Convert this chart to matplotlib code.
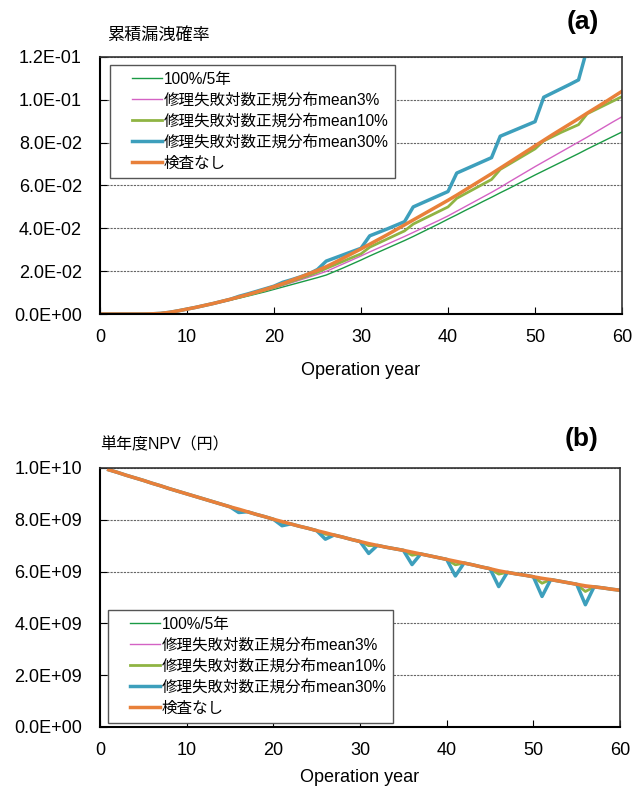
import matplotlib
matplotlib.use("Agg")
import matplotlib.pyplot as plt
from matplotlib.lines import Line2D
from matplotlib.legend_handler import HandlerLine2D
from matplotlib.ticker import FuncFormatter, MultipleLocator

plt.rcParams['font.family'] = ['Liberation Sans', 'Noto Sans CJK JP', 'DejaVu Sans']

# series labels and colours (legend order)
labels = ["100%/5年", "修理失敗対数正規分布mean3%", "修理失敗対数正規分布mean10%",
          "修理失敗対数正規分布mean30%", "検査なし"]
colors = ["#1a9a45", "#d462c4", "#8fb443", "#3d9fbc", "#e8803a"]
widths = [1.0, 1.0, 2.0, 2.5, 2.5]

# (a) cumulative leak probability, years 0..60
years_a = list(range(0, 61))
leak_none = [0, 0, 0, 0, 0, 0, 0.0001, 0.0003, 0.0008, 0.0015,
             0.0023, 0.0031, 0.0040, 0.0049, 0.0059, 0.0069, 0.0080, 0.0091, 0.0103, 0.0115,
             0.0128, 0.0142, 0.0157, 0.0172, 0.0188, 0.0204, 0.0221, 0.0241, 0.0262, 0.0283,
             0.0304, 0.0326, 0.0348, 0.0370, 0.0393, 0.0416, 0.0439, 0.0462, 0.0485, 0.0508,
             0.0531, 0.0555, 0.0580, 0.0605, 0.0630, 0.0655, 0.0681, 0.0707, 0.0733, 0.0759,
             0.0785, 0.0811, 0.0837, 0.0862, 0.0887, 0.0912, 0.0938, 0.0963, 0.0988, 0.1014,
             0.1040]
leak_m30 = [0, 0, 0, 0, 0, 0, 0.0001, 0.0003, 0.0008, 0.0015,
            0.0023, 0.0031, 0.0040, 0.0049, 0.0059, 0.0069, 0.0083, 0.0094, 0.0106, 0.0118,
            0.0130, 0.0148, 0.0160, 0.0173, 0.0187, 0.0208, 0.0247, 0.0262, 0.0277, 0.0292,
            0.0307, 0.0365, 0.0381, 0.0397, 0.0414, 0.0431, 0.0500, 0.0518, 0.0536, 0.0554,
            0.0572, 0.0658, 0.0676, 0.0694, 0.0712, 0.0730, 0.0830, 0.0847, 0.0864, 0.0881,
            0.0898, 0.1012, 0.1032, 0.1052, 0.1072, 0.1093, 0.1240, 0.1262, 0.1284, 0.1306,
            0.1328]
leak_m10 = [0, 0, 0, 0, 0, 0, 0.0001, 0.0003, 0.0008, 0.0015,
            0.0023, 0.0031, 0.0040, 0.0049, 0.0059, 0.0069, 0.0079, 0.0089, 0.0100, 0.0112,
            0.0124, 0.0138, 0.0152, 0.0166, 0.0180, 0.0195, 0.0213, 0.0230, 0.0247, 0.0264,
            0.0281, 0.0312, 0.0331, 0.0350, 0.0369, 0.0388, 0.0420, 0.0440, 0.0460, 0.0480,
            0.0500, 0.0540, 0.0562, 0.0584, 0.0606, 0.0628, 0.0675, 0.0699, 0.0723, 0.0747,
            0.0771, 0.0808, 0.0828, 0.0848, 0.0866, 0.0884, 0.0935, 0.0955, 0.0975, 0.0995,
            0.1015]
leak_m3 = [0, 0, 0, 0, 0, 0, 0.0001, 0.0003, 0.0008, 0.0015,
           0.0023, 0.0031, 0.0040, 0.0048, 0.0057, 0.0067, 0.0077, 0.0087, 0.0098, 0.0109,
           0.0120, 0.0133, 0.0146, 0.0159, 0.0172, 0.0185, 0.0199, 0.0217, 0.0235, 0.0253,
           0.0271, 0.0290, 0.0308, 0.0326, 0.0344, 0.0362, 0.0381, 0.0400, 0.0419, 0.0438,
           0.0458, 0.0480, 0.0502, 0.0524, 0.0546, 0.0568, 0.0591, 0.0616, 0.0640, 0.0664,
           0.0688, 0.0711, 0.0734, 0.0757, 0.0780, 0.0803, 0.0826, 0.0850, 0.0874, 0.0898,
           0.0921]
leak_5y = [0, 0, 0, 0, 0, 0, 0.0001, 0.0003, 0.0008, 0.0015,
           0.0023, 0.0031, 0.0039, 0.0047, 0.0056, 0.0065, 0.0074, 0.0084, 0.0094, 0.0104,
           0.0115, 0.0126, 0.0137, 0.0148, 0.0159, 0.0170, 0.0182, 0.0199, 0.0216, 0.0234,
           0.0252, 0.0271, 0.0289, 0.0307, 0.0325, 0.0343, 0.0362, 0.0382, 0.0402, 0.0422,
           0.0443, 0.0463, 0.0484, 0.0504, 0.0525, 0.0545, 0.0566, 0.0586, 0.0607, 0.0628,
           0.0649, 0.0669, 0.0689, 0.0709, 0.0729, 0.0749, 0.0770, 0.0790, 0.0810, 0.0830,
           0.0850]

# (b) single-year NPV in units of 1E9 yen, years 1..60
years_b = list(range(1, 61))
npv_none = [9.93, 9.83, 9.72, 9.62, 9.52, 9.41, 9.31, 9.20, 9.10, 9.00,
            8.90, 8.80, 8.70, 8.60, 8.50, 8.41, 8.31, 8.21, 8.12, 8.02,
            7.93, 7.84, 7.75, 7.67, 7.58, 7.50, 7.41, 7.33, 7.24, 7.16,
            7.08, 7.01, 6.94, 6.88, 6.82, 6.75, 6.68, 6.61, 6.54, 6.47,
            6.40, 6.33, 6.26, 6.18, 6.11, 6.03, 5.97, 5.91, 5.86, 5.80,
            5.74, 5.69, 5.63, 5.57, 5.51, 5.45, 5.41, 5.37, 5.32, 5.28]
# NPV drop in inspection years 16, 21, ..., 56
dip_years = [16, 21, 26, 31, 36, 41, 46, 51, 56]
dip_5y = [0.01, 0.01, 0.01, 0.02, 0.02, 0.02, 0.03, 0.03, 0.04]
dip_m3 = [0.01, 0.01, 0.02, 0.02, 0.03, 0.04, 0.04, 0.05, 0.07]
dip_m10 = [0.03, 0.04, 0.06, 0.08, 0.12, 0.14, 0.13, 0.19, 0.22]
dip_m30 = [0.13, 0.16, 0.25, 0.38, 0.48, 0.57, 0.61, 0.70, 0.73]


def with_dips(base, dips):
    vals = list(base)
    for yr, d in zip(dip_years, dips):
        vals[years_b.index(yr)] -= d
    return [v * 1e9 for v in vals]


def sci(v, pos):
    return f"{v:.1E}"


def style_axes(ax, labelpad):
    ax.tick_params(direction='in', length=5, labelsize=13)
    ax.tick_params(axis='y', pad=13)
    ax.tick_params(axis='x', pad=11)
    ax.yaxis.set_major_formatter(FuncFormatter(sci))
    ax.xaxis.set_major_locator(MultipleLocator(10))
    ax.set_xlim(0, 60)
    ax.yaxis.grid(True, linestyle=(0, (2, 1)), color='#666666', linewidth=0.8)
    ax.set_axisbelow(True)
    for side in ['top', 'right']:
        ax.spines[side].set_color('#333333')
        ax.spines[side].set_linewidth(1.2)
    for side in ['left', 'bottom']:
        ax.spines[side].set_color('black')
        ax.spines[side].set_linewidth(1.5)
    ax.set_xlabel("Operation year", fontsize=13, labelpad=labelpad)


def add_legend(ax, anchor):
    leg = ax.legend(loc='upper left', bbox_to_anchor=anchor, borderaxespad=0,
                    fontsize=11.2, fancybox=False, framealpha=1, edgecolor='#555555',
                    handlelength=2.9, handletextpad=0.1, labelspacing=0.38,
                    borderpad=0.45,
                    handler_map={Line2D: HandlerLine2D(xpad=0.95)})
    leg.get_frame().set_linewidth(1.0)


def main():
    fig = plt.figure(figsize=(6.44, 7.89), dpi=100)
    ax1 = fig.add_axes([0.1553, 0.602, 0.8106, 0.3258])
    ax2 = fig.add_axes([0.1553, 0.0786, 0.8075, 0.3283])

    series_a = [leak_5y, leak_m3, leak_m10, leak_m30, leak_none]
    for vals, lab, col, lw in zip(series_a, labels, colors, widths):
        ax1.plot(years_a, vals, color=col, linewidth=lw, label=lab)
    ax1.set_ylim(0, 0.12)
    ax1.yaxis.set_major_locator(MultipleLocator(0.02))
    style_axes(ax1, 11)
    add_legend(ax1, (0.019, 0.969))
    fig.text(0.166, 0.9556, "累積漏洩確率", fontsize=12.3, ha='left', va='center')
    fig.text(0.93, 0.972, "(a)", fontsize=19, fontweight='bold', ha='right', va='center')

    series_b = [with_dips(npv_none, dip_5y), with_dips(npv_none, dip_m3),
                with_dips(npv_none, dip_m10), with_dips(npv_none, dip_m30),
                [v * 1e9 for v in npv_none]]
    for vals, lab, col, lw in zip(series_b, labels, colors, widths):
        ax2.plot(years_b, vals, color=col, linewidth=lw, label=lab)
    ax2.set_ylim(0, 1e10)
    ax2.yaxis.set_major_locator(MultipleLocator(2e9))
    style_axes(ax2, 7)
    add_legend(ax2, (0.015, 0.452))
    fig.text(0.155, 0.436, "単年度NPV（円）", fontsize=11.5, ha='left', va='center')
    fig.text(0.93, 0.444, "(b)", fontsize=19, fontweight='bold', ha='right', va='center')

    fig.savefig("out.png", dpi=100)
    plt.close(fig)


if __name__ == "__main__":
    main()
